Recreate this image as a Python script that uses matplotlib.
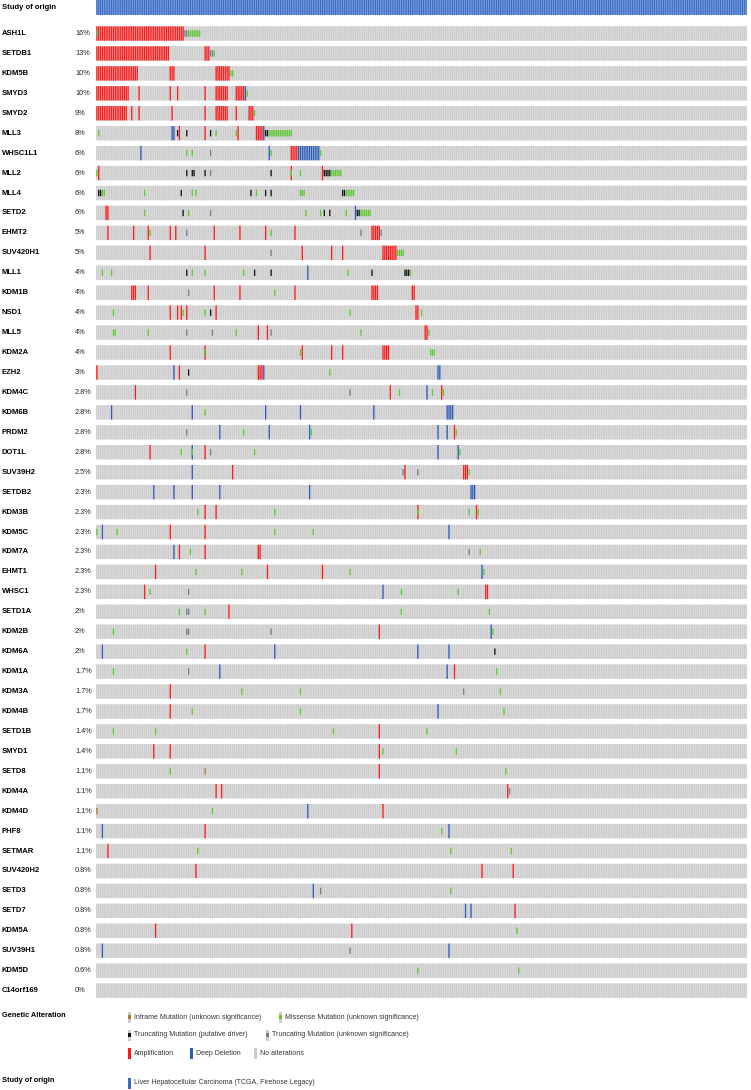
import matplotlib.pyplot as plt
from matplotlib.transforms import blended_transform_factory

plt.rcParams['font.family'] = ['Liberation Sans', 'DejaVu Sans']

# 샘플 수 (TCGA LIHC)
N_SAMPLES = 355

GENES = ['ASH1L', 'SETDB1', 'KDM5B', 'SMYD3', 'SMYD2', 'MLL3', 'WHSC1L1', 'MLL2', 'MLL4',
         'SETD2', 'EHMT2', 'SUV420H1', 'MLL1', 'KDM1B', 'NSD1', 'MLL5', 'KDM2A', 'EZH2',
         'KDM4C', 'KDM6B', 'PRDM2', 'DOT1L', 'SUV39H2', 'SETDB2', 'KDM3B', 'KDM5C', 'KDM7A',
         'EHMT1', 'WHSC1', 'SETD1A', 'KDM2B', 'KDM6A', 'KDM1A', 'KDM3A', 'KDM4B', 'SETD1B',
         'SMYD1', 'SETD8', 'KDM4A', 'KDM4D', 'PHF8', 'SETMAR', 'SUV420H2', 'SETD3', 'SETD7',
         'KDM5A', 'SUV39H1', 'KDM5D', 'C14orf169']
PCTS = ['16%', '13%', '10%', '10%', '9%', '8%', '6%', '6%', '6%', '6%', '5%', '5%', '4%', '4%',
        '4%', '4%', '4%', '3%', '2.8%', '2.8%', '2.8%', '2.8%', '2.5%', '2.3%', '2.3%', '2.3%',
        '2.3%', '2.3%', '2.3%', '2%', '2%', '2%', '1.7%', '1.7%', '1.7%', '1.4%', '1.4%', '1.1%',
        '1.1%', '1.1%', '1.1%', '1.1%', '0.8%', '0.8%', '0.8%', '0.8%', '0.8%', '0.6%', '0%']

# 변이 위치 (샘플 index, 튜플 = 연속 구간)
AMP = {
    'ASH1L': [(0, 47)],
    'SETDB1': [(0, 39), (59, 61)],
    'KDM5B': [(0, 22), (40, 42), (65, 72)],
    'SMYD3': [(0, 17), 23, 40, 44, 59, (65, 71), (76, 80)],
    'SMYD2': [(0, 16), 19, 23, 41, 59, (65, 71), 76, (83, 85)],
    'MLL3': [45, 59, 77, (87, 90)],
    'WHSC1L1': [(106, 109)],
    'MLL2': [1, 106, 123],
    'SETD2': [(5, 6)],
    'EHMT2': [6, 20, 28, 40, 43, 64, 78, 92, 108, (150, 154)],
    'SUV420H1': [29, 59, 112, 128, 134, (156, 163)],
    'KDM1B': [(19, 21), 28, 64, 78, 108, (150, 153), (172, 173)],
    'NSD1': [40, 44, 46, 49, 65, (174, 175)],
    'MLL5': [88, 93, (179, 180)],
    'KDM2A': [40, 59, 112, 128, 134, (156, 159)],
    'EZH2': [0, 45, (88, 90)],
    'KDM4C': [21, 160, 188],
    'PRDM2': [195],
    'DOT1L': [29, 59],
    'SUV39H2': [74, 168, (200, 202)],
    'KDM3B': [59, 65, 175, 207],
    'KDM5C': [40, 59],
    'KDM7A': [45, 59, (88, 89)],
    'EHMT1': [32, 93, 123],
    'WHSC1': [26, (212, 213)],
    'SETD1A': [72],
    'KDM2B': [154],
    'KDM6A': [59],
    'KDM1A': [195],
    'KDM3A': [40],
    'KDM4B': [40],
    'SETD1B': [154],
    'SMYD1': [31, 40, 154],
    'SETD8': [154],
    'KDM4A': [65, 68, 224],
    'KDM4D': [156],
    'PHF8': [59],
    'SETMAR': [6],
    'SUV420H2': [54, 210, 227],
    'SETD7': [228],
    'KDM5A': [32, 139],
}
DEL = {
    'SMYD3': [81],
    'MLL3': [(41, 42), 91],
    'WHSC1L1': [24, 94, (110, 121)],
    'SETD2': [141],
    'MLL1': [115],
    'EZH2': [42, 91, (186, 187)],
    'KDM4C': [180],
    'KDM6B': [8, 52, 92, 111, 151, (191, 194)],
    'PRDM2': [67, 94, 116, 186, 191],
    'DOT1L': [52, 186, 197],
    'SUV39H2': [52],
    'SETDB2': [31, 42, 52, 67, 116, (204, 206)],
    'KDM5C': [3, 192],
    'KDM7A': [42],
    'EHMT1': [210],
    'WHSC1': [156],
    'KDM2B': [215],
    'KDM6A': [3, 97, 175, 192],
    'KDM1A': [67, 191],
    'KDM4B': [186],
    'KDM4D': [115],
    'PHF8': [3, 192],
    'SETD3': [118],
    'SETD7': [201, 204],
    'SUV39H1': [3, 192],
}
MISSENSE = {
    'ASH1L': [0, (50, 56)],
    'SETDB1': [64],
    'KDM5B': [(73, 74)],
    'SMYD3': [82],
    'SMYD2': [86],
    'MLL3': [1, 65, 76, (94, 106)],
    'WHSC1L1': [49, 52, 95, 122],
    'MLL2': [0, 106, 111, (128, 133)],
    'MLL4': [(3, 4), 26, 52, 54, 87, (111, 113), (136, 140)],
    'SETD2': [26, 50, 114, 122, 136, (144, 149)],
    'EHMT2': [29, 95],
    'SUV420H1': [(164, 167)],
    'MLL1': [3, 8, 52, 59, 80, 137, 171],
    'KDM1B': [97],
    'NSD1': [9, 47, 59, 138, 177],
    'MLL5': [9, 10, 28, 76, 144, 181],
    'KDM2A': [59, 111, (182, 184)],
    'EZH2': [127],
    'KDM4C': [165, 183, 189],
    'KDM6B': [59],
    'PRDM2': [80, 117, 196],
    'DOT1L': [46, 52, 86, 198],
    'SUV39H2': [203],
    'KDM3B': [55, 97, 175, 203, 208],
    'KDM5C': [0, 11, 97, 118],
    'KDM7A': [51, 209],
    'EHMT1': [54, 79, 138, 211],
    'WHSC1': [29, 166, 197],
    'SETD1A': [45, 59, 166, 214],
    'KDM2B': [9, 216],
    'KDM6A': [49],
    'KDM1A': [9, 218],
    'KDM3A': [79, 111, 220],
    'KDM4B': [52, 111, 222],
    'SETD1B': [9, 32, 129, 180],
    'SMYD1': [156, 196],
    'SETD8': [40, 223],
    'KDM4D': [63],
    'PHF8': [188],
    'SETMAR': [55, 193, 226],
    'SETD3': [193],
    'KDM5A': [229],
    'KDM5D': [175, 230],
}
TRUNC_DRIVER = {
    'MLL3': [44, 49, 62, (92, 93)],
    'MLL2': [49, 52, 53, 59, 95, (124, 127)],
    'MLL4': [(1, 2), 46, 84, 92, 95, (134, 135)],
    'SETD2': [47, 124, 127, (142, 143)],
    'MLL1': [49, 86, 95, 150, (168, 170)],
    'NSD1': [62],
    'EZH2': [50],
    'KDM6A': [217],
}
TRUNC_VUS = {
    'ASH1L': [(48, 49)],
    'SETDB1': [(62, 63)],
    'WHSC1L1': [62],
    'MLL2': [62],
    'SETD2': [62],
    'EHMT2': [49, 144, 155],
    'SUV420H1': [95],
    'KDM1B': [50],
    'MLL5': [49, 63, 95],
    'KDM4C': [49, 138],
    'PRDM2': [49],
    'DOT1L': [62],
    'SUV39H2': [167, 175],
    'KDM7A': [203],
    'WHSC1': [50],
    'SETD1A': [(49, 50)],
    'KDM2B': [(49, 50), 95],
    'KDM1A': [50],
    'KDM3A': [200],
    'KDM4A': [225],
    'SETD3': [122],
    'SUV39H1': [138],
}
INFRAME = {
    'SETD8': [59],
    'KDM4D': [0],
}

C_BG = '#e6e6e6'
C_GRAY = '#cccccc'
C_AMP = '#ff1a1a'
C_DEL = '#2b5db8'
C_MIS = '#5cc832'
C_TRD = '#111111'
C_TRV = '#708090'
C_INF = '#a68028'
C_STUDY = '#3a6cc6'


def expand(items):
    out = []
    for it in items:
        if isinstance(it, tuple):
            out.extend(range(it[0], it[1] + 1))
        else:
            out.append(it)
    return out


W, H = 751, 1090
X0, X1 = 96, 747          # 행렬 좌우 (px)
ROW0, PITCH = 33.5, 19.94  # 첫 행 중심, 행 간격 (px)
Y_BOTTOM = 1000
CELL_W = 0.72
CELL_H = 0.72
MUT_H = 0.32

fig = plt.figure(figsize=(W / 100, H / 100), dpi=100)
ax = fig.add_axes([X0 / W, 1 - Y_BOTTOM / H, (X1 - X0) / W, Y_BOTTOM / H])
ax.set_xlim(0, N_SAMPLES)
ax.set_ylim((Y_BOTTOM - ROW0) / PITCH, -ROW0 / PITCH)
ax.axis('off')


def draw_cells(idx, y, h, color, w=CELL_W):
    if not idx:
        return
    o = (1 - w) / 2
    coll = ax.broken_barh([(i + o, w) for i in idx], (y - h / 2, h),
                          facecolors=color, linewidth=0)
    coll.set_snap(False)
    coll.set_antialiased(True)


def draw_strip(y, h, color):
    coll = ax.broken_barh([(0, N_SAMPLES)], (y - h / 2, h), facecolors=color, linewidth=0)
    coll.set_snap(False)


# study of origin
study_y = (7.5 - ROW0) / PITCH
draw_strip(study_y, 0.75, '#a4bfea')
draw_cells(list(range(N_SAMPLES)), study_y, 0.75, C_STUDY)

trans = blended_transform_factory(fig.transFigure, ax.transData)
ax.text(2 / W, study_y, 'Study of origin', transform=trans, va='center', ha='left',
        fontsize=5.5, fontweight='bold')

for r, g in enumerate(GENES):
    draw_strip(r, CELL_H, C_BG)
    draw_cells(list(range(N_SAMPLES)), r, CELL_H, C_GRAY)
    draw_cells(expand(AMP.get(g, [])), r, CELL_H, C_AMP)
    draw_cells(expand(DEL.get(g, [])), r, CELL_H, C_DEL)
    draw_cells(expand(MISSENSE.get(g, [])), r, MUT_H, C_MIS)
    draw_cells(expand(TRUNC_VUS.get(g, [])), r, MUT_H, C_TRV)
    draw_cells(expand(TRUNC_DRIVER.get(g, [])), r, MUT_H, C_TRD)
    draw_cells(expand(INFRAME.get(g, [])), r, MUT_H, C_INF)
    ax.text(2 / W, r, g, transform=trans, va='center', ha='left',
            fontsize=5.5, fontweight='bold')
    ax.text(75 / W, r, PCTS[r], transform=trans, va='center', ha='left',
            fontsize=5.3, color='#222222')

# 범례
lg = fig.add_axes([0, 0, 1, 1 - Y_BOTTOM / H])
lg.set_xlim(0, W)
lg.set_ylim(H, Y_BOTTOM)
lg.axis('off')

LEGEND_ITEMS = [
    ('Inframe Mutation (unknown significance)', C_INF, 'mut', 128, 1017),
    ('Missense Mutation (unknown significance)', C_MIS, 'mut', 279, 1017),
    ('Truncating Mutation (putative driver)', C_TRD, 'mut', 128, 1035),
    ('Truncating Mutation (unknown significance)', C_TRV, 'mut', 266, 1035),
    ('Amplification', C_AMP, 'full', 128, 1053.5),
    ('Deep Deletion', C_DEL, 'full', 190, 1053.5),
    ('No alterations', C_GRAY, 'full', 254, 1053.5),
    ('Liver Hepatocellular Carcinoma (TCGA, Firehose Legacy)', C_STUDY, 'full', 128, 1083),
]
for label, col, kind, lx, ly in LEGEND_ITEMS:
    if kind == 'mut':
        lg.add_patch(plt.Rectangle((lx, ly - 5.5), 3, 11, color=C_GRAY, lw=0))
        lg.add_patch(plt.Rectangle((lx, ly - 2), 3, 4, color=col, lw=0))
    else:
        lg.add_patch(plt.Rectangle((lx, ly - 5.5), 3, 11, color=col, lw=0))
    lg.text(lx + 6, ly, label, va='center', ha='left', fontsize=5.0, color='#333333')

lg.text(2, 1015, 'Genetic Alteration', va='center', ha='left', fontsize=5.3, fontweight='bold')
lg.text(2, 1081, 'Study of origin', va='center', ha='left', fontsize=5.3, fontweight='bold')

fig.savefig('out.png', dpi=100)
